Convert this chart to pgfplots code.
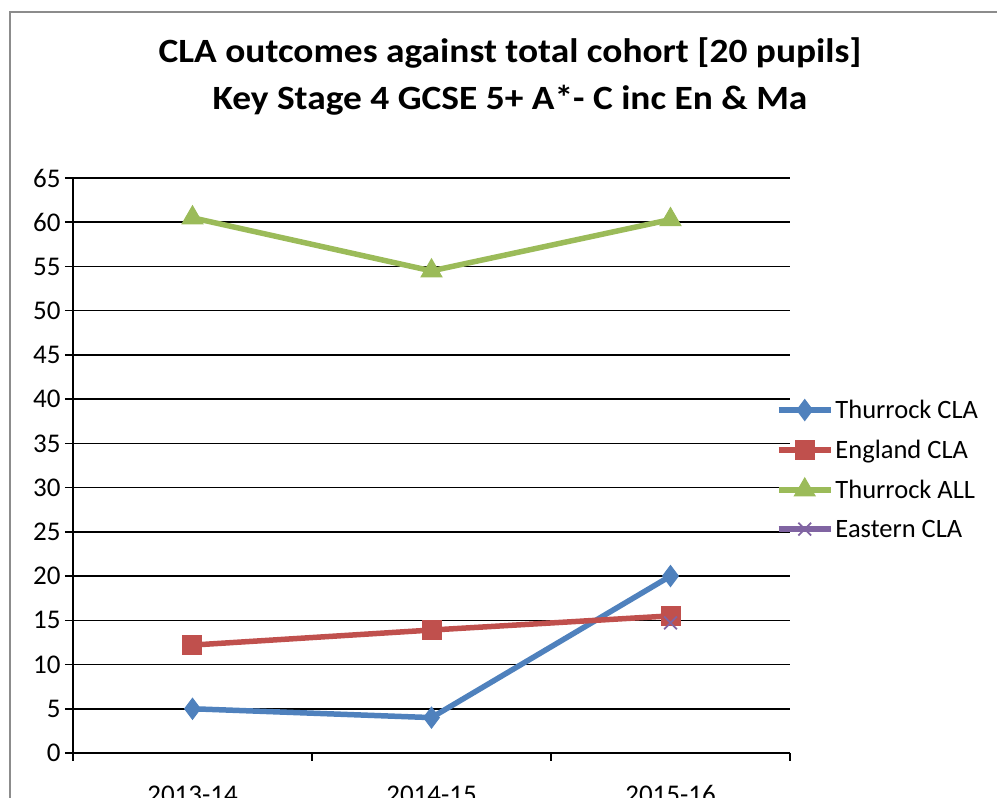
\documentclass[border=0pt]{standalone}
\usepackage{pgfplots}
\pgfplotsset{compat=1.18}
\usepackage{fontspec}
\setmainfont{Carlito}
\newfontfamily\titlefont[FakeStretch=1.1]{Carlito}
\definecolor{cblue}{HTML}{4F81BD}
\definecolor{cred}{HTML}{C0504D}
\definecolor{cgreen}{HTML}{9BBB59}
\definecolor{cpurple}{HTML}{8064A2}
\begin{document}
\begin{tikzpicture}
\begin{axis}[
  name=ax,
  scale only axis, width=717pt, height=575pt,
  xmin=-0.5, xmax=2.5, ymin=0, ymax=65,
  axis lines=left,
  axis line style={black, line width=1.6pt, -},
  ytick={0,5,...,65},
  ymajorgrids,
  major grid style={black, line width=1.6pt},
  tick style={black, line width=1.6pt},
  tick align=outside,
  major tick length=8pt,
  xtick={-0.5,0.5,1.5,2.5},
  xticklabels={},
  extra x ticks={0,1,2},
  extra x tick labels={2013-14,2014-15,2015-16},
  extra x tick style={major tick length=0pt, xticklabel style={yshift=-29pt}},
  /pgf/number format/assume math mode=true,
  ticklabel style={font=\fontsize{27}{32}\selectfont},
  yticklabel style={xshift=-1pt},
  legend style={draw=none, fill=none, at={(0.976,0.621)}, anchor=north west,
    font=\fontsize{26.5}{31}\selectfont, row sep=16pt, cells={anchor=west}},
  legend image code/.code={\draw[mark repeat=2,mark phase=2] plot coordinates {(0pt,0pt)(26pt,0pt)(52pt,0pt)};},
]
\addplot[cblue, line width=5.5pt, mark=diamond*, mark size=10.5pt, mark options={line width=1pt, fill=cblue}] coordinates {(0,5) (1,4) (2,20)};
\addlegendentry{Thurrock CLA}
\addplot[cred, line width=5.5pt, mark=square*, mark size=9.5pt, mark options={line width=1pt, fill=cred}] coordinates {(0,12.2) (1,13.9) (2,15.5)};
\addlegendentry{England CLA}
\addplot[cgreen, line width=5.5pt, mark=triangle*, mark size=12pt, mark options={line width=1pt, fill=cgreen}] coordinates {(0,60.5) (1,54.5) (2,60.3)};
\addlegendentry{Thurrock ALL}
\addplot[cpurple, line width=5.5pt, mark=x, mark size=9pt, mark options={line width=1.8pt}] coordinates {(2,14.7)};
\addlegendentry{Eastern CLA}
\end{axis}
\pgfresetboundingbox
\path (ax.south west) ++(-73pt,-45pt) coordinate (O);
\begin{scope}[shift={(O)}, x=1pt, y=1pt]
\path[use as bounding box] (0,0) rectangle (997,798);
\draw[black!45, line width=2] (10,-10) -- (10,786) -- (1010,786);
\node[font=\titlefont\bfseries\fontsize{34}{40}\selectfont] at (510,745) {CLA outcomes against total cohort [20 pupils]};
\node[font=\titlefont\bfseries\fontsize{34}{40}\selectfont] at (510,698) {Key Stage 4 GCSE 5+ A*- C inc En \& Ma};
\end{scope}
\end{tikzpicture}
\end{document}
